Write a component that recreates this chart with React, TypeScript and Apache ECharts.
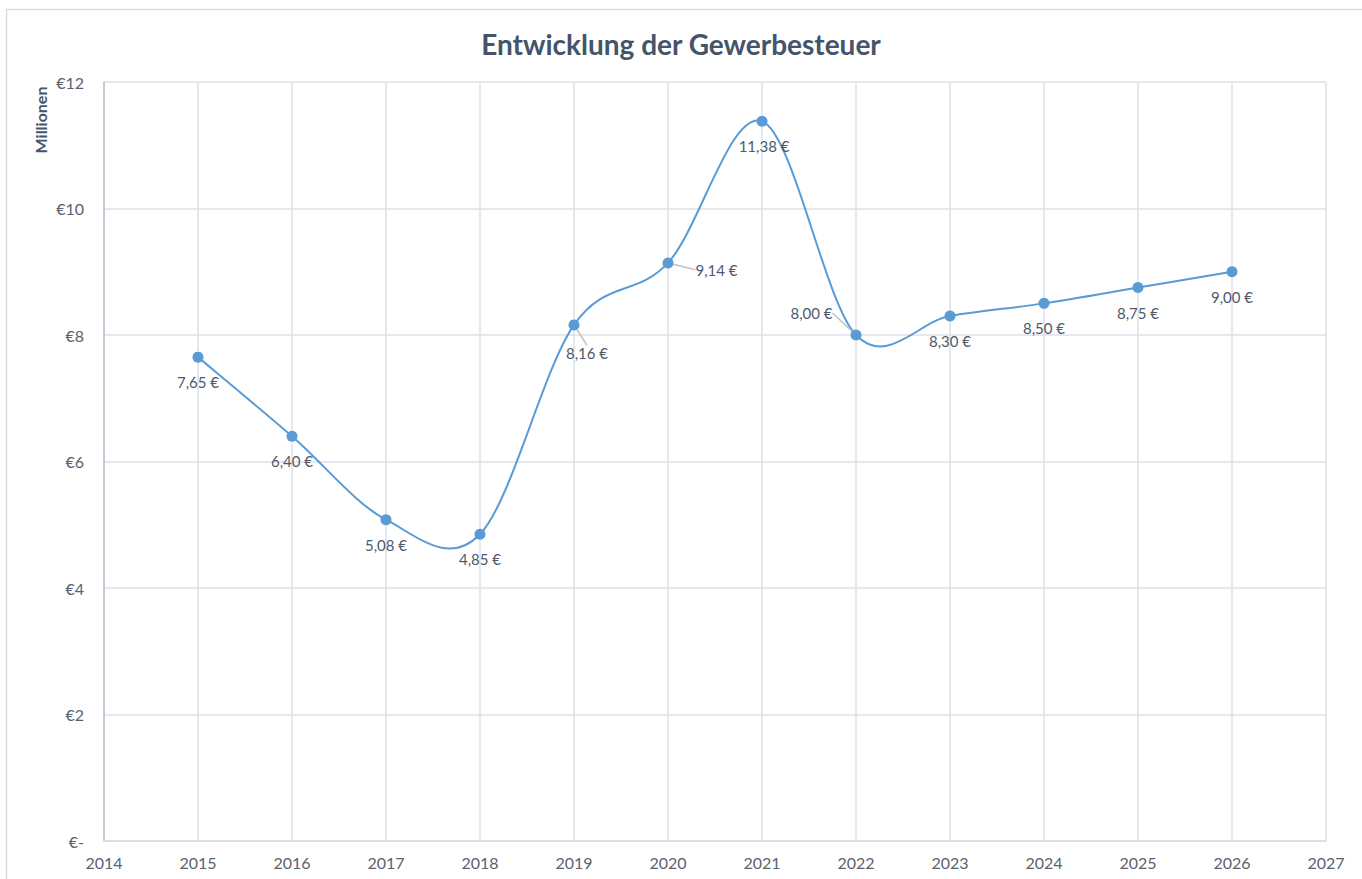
import React, { useEffect, useRef } from "react";
import * as echarts from "echarts";

const years = [2015, 2016, 2017, 2018, 2019, 2020, 2021, 2022, 2023, 2024, 2025, 2026];
const values = [7.65, 6.4, 5.08, 4.85, 8.16, 9.14, 11.38, 8.0, 8.3, 8.5, 8.75, 9.0];
// label placement per point: [position, dx, dy, leader line]
const labelPlacement: [string, number, number, boolean][] = [
  ["bottom", 0, 0, false],
  ["bottom", 0, 0, false],
  ["bottom", 0, 0, false],
  ["bottom", 0, 0, false],
  ["bottom", 13, 3, true],
  ["right", 10, 7, true],
  ["bottom", 2, 0, false],
  ["left", -6, -22, true],
  ["bottom", 0, 0, false],
  ["bottom", 0, 0, false],
  ["bottom", 0, 0, false],
  ["bottom", 0, 0, false],
];
const title = "Entwicklung der Gewerbesteuer";
const unitLabel = "Millionen";

const FONT = "Lato, 'Open Sans', sans-serif";
const LINE_COLOR = "#5b9bd5";

export default function App() {
  const ref = useRef<HTMLDivElement>(null);
  useEffect(() => {
    document.body.style.margin = "0";
    const chart = echarts.init(ref.current!, null, { renderer: "svg" });
    const fmt = (v: number) => v.toFixed(2).replace(".", ",") + "\u00a0€";
    chart.setOption({
      animation: false,
      backgroundColor: "#ffffff",
      textStyle: { fontFamily: FONT },
      title: {
        text: title,
        left: "center",
        top: 25,
        textStyle: { fontFamily: FONT, fontSize: 28, fontWeight: "bold", color: "#44546a" },
      },
      graphic: [
        {
          type: "rect",
          shape: { x: 6.5, y: 9.5, width: 1400, height: 900 },
          style: { fill: "none", stroke: "#d9dde3", lineWidth: 1.5 },
          silent: true,
        },
        {
          type: "text",
          x: 40,
          y: 120,
          rotation: Math.PI / 2,
          style: {
            text: unitLabel,
            fontFamily: FONT,
            fontSize: 16,
            fontWeight: "bold",
            fill: "#44546a",
            align: "center",
            verticalAlign: "middle",
          },
        },
      ],
      grid: { left: 104, right: 36, top: 82, bottom: 38, containLabel: false },
      xAxis: {
        type: "value",
        min: 2014,
        max: 2027,
        interval: 1,
        axisLine: { show: true, lineStyle: { color: "#d9dde3", width: 1.5 } },
        axisTick: { show: false },
        splitLine: { show: true, lineStyle: { color: "#dde1e8", width: 1.5 } },
        axisLabel: {
          formatter: (v: number) => String(v),
          color: "#5a6270",
          fontFamily: FONT,
          fontSize: 16,
          margin: 13,
        },
      },
      yAxis: {
        type: "value",
        min: 0,
        max: 12,
        interval: 2,
        axisLine: { show: true, lineStyle: { color: "#b9c2cf", width: 1.5 } },
        axisTick: { show: false },
        splitLine: { show: true, lineStyle: { color: "#dde1e8", width: 1.5 } },
        axisLabel: {
          formatter: (v: number) => (v === 0 ? "€-" : "€" + v),
          color: "#5a6270",
          fontFamily: FONT,
          fontSize: 16,
          margin: 20,
        },
      },
      series: [
        {
          // smoothed curve (Excel-style Catmull-Rom bezier) through the data points
          type: "custom",
          z: 1,
          silent: true,
          data: [0],
          renderItem: (_params: any, api: any) => {
            const pts = years.map((y, i) => api.coord([y, values[i]]));
            const children: any[] = [];
            for (let i = 0; i < pts.length - 1; i++) {
              const p0 = pts[Math.max(0, i - 1)];
              const p1 = pts[i];
              const p2 = pts[i + 1];
              const p3 = pts[Math.min(pts.length - 1, i + 2)];
              children.push({
                type: "bezierCurve",
                shape: {
                  x1: p1[0],
                  y1: p1[1],
                  cpx1: p1[0] + (p2[0] - p0[0]) / 6,
                  cpy1: p1[1] + (p2[1] - p0[1]) / 6,
                  cpx2: p2[0] - (p3[0] - p1[0]) / 6,
                  cpy2: p2[1] - (p3[1] - p1[1]) / 6,
                  x2: p2[0],
                  y2: p2[1],
                },
                style: { stroke: LINE_COLOR, lineWidth: 2, fill: "none" },
              });
            }
            return { type: "group", children };
          },
        },
        {
          type: "line",
          z: 3,
          data: years.map((y, i) => ({
            value: [y, values[i]],
            label: { position: labelPlacement[i][0] },
            labelLine: { show: labelPlacement[i][3] },
          })),
          symbol: "circle",
          symbolSize: 11,
          itemStyle: { color: LINE_COLOR },
          lineStyle: { color: LINE_COLOR, width: 0, opacity: 0 },
          label: {
            show: true,
            distance: 12,
            formatter: (p: any) => fmt(p.value[1]),
            color: "#505a6b",
            fontFamily: FONT,
            fontSize: 15,
          },
          labelLine: { lineStyle: { color: "#bfbfbf", width: 1.5 } },
          labelLayout: (params: any) => ({
            dx: labelPlacement[params.dataIndex][1],
            dy: labelPlacement[params.dataIndex][2],
          }),
        },
      ],
    });
    return () => chart.dispose();
  }, []);
  return <div ref={ref} style={{ width: 1362, height: 879 }} />;
}
